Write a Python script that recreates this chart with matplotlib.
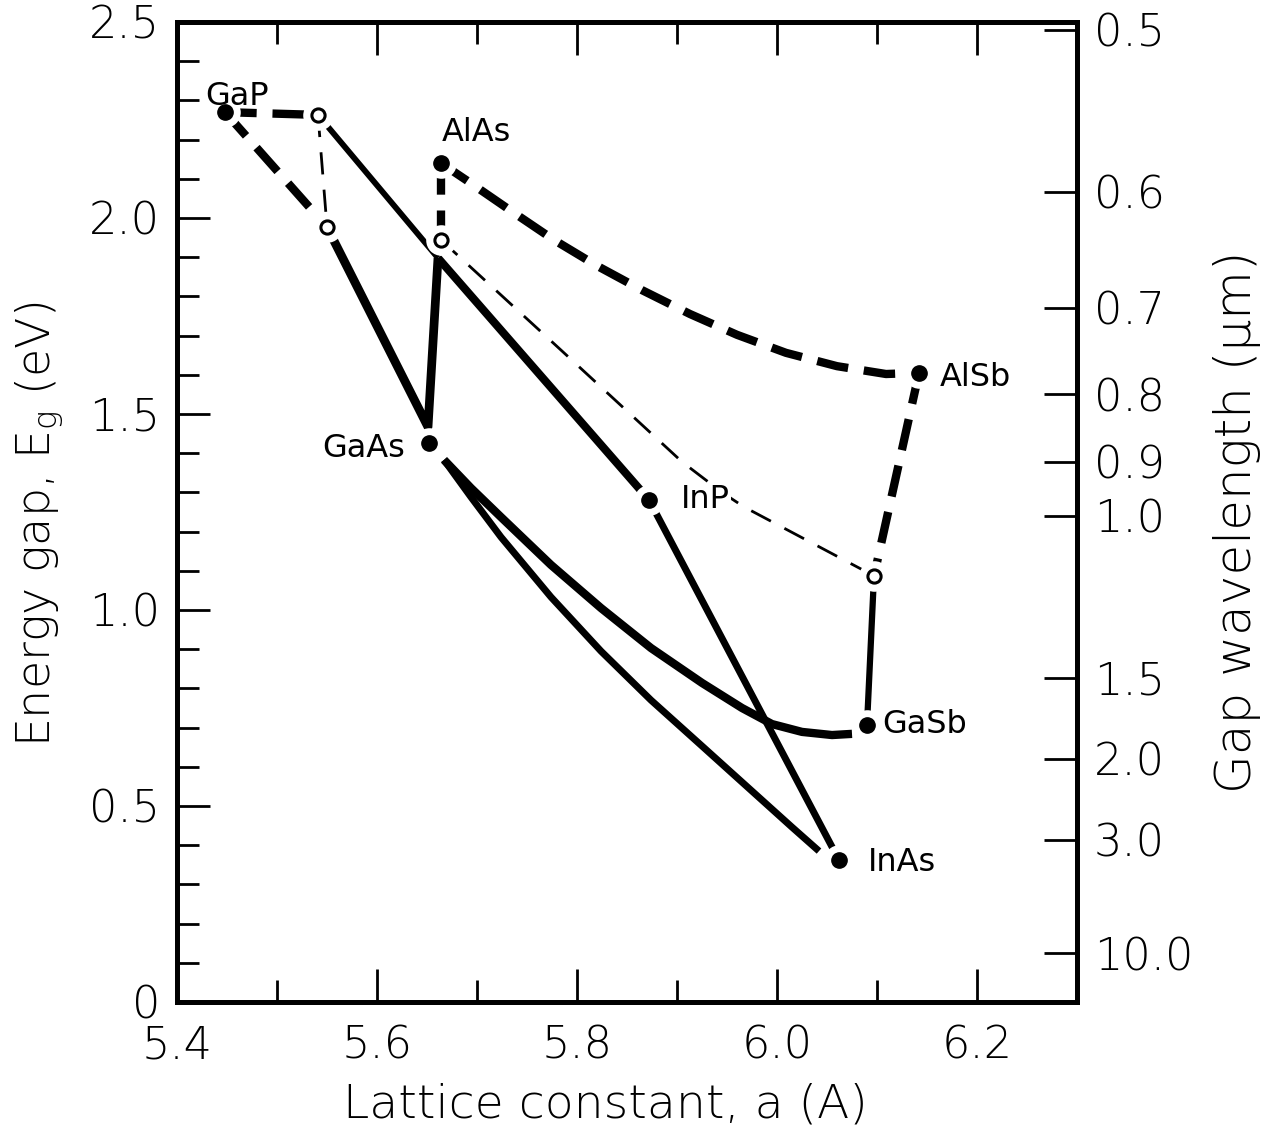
import matplotlib
matplotlib.use("Agg")
import matplotlib.pyplot as plt
from matplotlib import font_manager

plt.rcParams['font.family'] = ['DejaVu Sans']
plt.rcParams['mathtext.default'] = 'regular'

# use the lighter DejaVu cut when it is installed
WEIGHT = 'light' if any(
    f.name == 'DejaVu Sans' and f.weight in (200, 'light', 'extra-light', 'ultralight')
    for f in font_manager.fontManager.ttflist) else 'normal'

# Binary III-V compounds: lattice constant (A) and energy gap (eV)
compounds = ["GaP", "AlAs", "GaAs", "InP", "AlSb", "GaSb", "InAs"]
lattice = [5.448, 5.664, 5.652, 5.872, 6.142, 6.090, 6.062]
gap = [2.270, 2.140, 1.426, 1.281, 1.605, 0.707, 0.362]

# Crossover points (open circles)
open_a = [5.541, 5.550, 5.664, 6.097]
open_e = [2.263, 1.977, 1.944, 1.087]

# Ternary curves
gaas_gasb_a = [5.667, 5.694, 5.724, 5.774, 5.824, 5.874, 5.925, 5.965, 5.995, 6.025, 6.055, 6.075]
gaas_gasb_e = [1.383, 1.311, 1.237, 1.115, 1.005, 0.903, 0.814, 0.750, 0.709, 0.689, 0.681, 0.684]

gaas_inas_a = [5.667, 5.694, 5.724, 5.774, 5.824, 5.874, 5.925, 5.975, 6.015, 6.042]
gaas_inas_e = [1.383, 1.288, 1.186, 1.033, 0.895, 0.770, 0.653, 0.538, 0.446, 0.385]

alas_alsb_a = [5.664, 5.692, 5.737, 5.777, 5.820, 5.865, 5.913, 5.960, 6.009, 6.060, 6.109, 6.142]
alas_alsb_e = [2.140, 2.092, 2.013, 1.944, 1.878, 1.816, 1.755, 1.702, 1.656, 1.622, 1.602, 1.605]

# GaP-GaAs-AlAs region: direct-gap V and GaP-InP line
v_a = [5.550, 5.651, 5.661]
v_e = [1.977, 1.467, 1.898]
gap_inp_upper_a = [5.541, 5.661]
gap_inp_upper_e = [2.263, 1.898]
gap_inp_lower_a = [5.661, 5.872]
gap_inp_lower_e = [1.898, 1.281]

thin_dash_a = [5.664, 5.784, 5.905, 5.945, 5.967, 6.097]
thin_dash_e = [1.944, 1.663, 1.378, 1.300, 1.263, 1.087]

# Right axis: gap wavelength ticks (um), E = 1.24 / lambda
wavelengths = [0.5, 0.6, 0.7, 0.8, 0.9, 1.0, 1.5, 2.0, 3.0, 10.0]
wl_labels = ["0.5", "0.6", "0.7", "0.8", "0.9", "1.0", "1.5", "2.0", "3.0", "10.0"]

x_major = [5.4, 5.6, 5.8, 6.0, 6.2]
x_minor = [5.5, 5.7, 5.9, 6.1]
y_major = [0, 0.5, 1.0, 1.5, 2.0, 2.5]
y_labels = ["0", "0.5", "1.0", "1.5", "2.0", "2.5"]

label_pos = {
    "GaP": (5.460, 2.309),
    "AlAs": (5.699, 2.217),
    "GaAs": (5.587, 1.413),
    "InP": (5.928, 1.281),
    "AlSb": (6.198, 1.594),
    "GaSb": (6.148, 0.707),
    "InAs": (6.125, 0.357),
}

fig = plt.figure(figsize=(12.68, 11.36), dpi=100)
ax = fig.add_axes([0.13959, 0.11796, 0.70978, 0.86268])
ax.set_xlim(5.4, 6.3)
ax.set_ylim(0, 2.5)

K = 'black'
thick_dash = dict(color=K, lw=6.0, linestyle=(0, (3.8, 1.9)), dash_capstyle='butt', zorder=2)
thin_dash = dict(color=K, lw=2.0, linestyle=(0, (8, 5.5)), zorder=2)

# dashed boundaries
ax.plot([lattice[0], open_a[0]], [gap[0], open_e[0]], **thick_dash)
ax.plot([lattice[0], open_a[1]], [gap[0], open_e[1]], **thick_dash)
ax.plot([lattice[1], open_a[2]], [gap[1], open_e[2]], **thick_dash)
ax.plot(alas_alsb_a, alas_alsb_e, **thick_dash)
ax.plot([lattice[4], open_a[3]], [gap[4], open_e[3]], **thick_dash)
ax.plot([open_a[0], open_a[1]], [open_e[0], open_e[1]], **thin_dash)
ax.plot(thin_dash_a, thin_dash_e, **thin_dash)

# solid curves
solid = dict(color=K, solid_joinstyle='round', solid_capstyle='butt', zorder=2)
ax.plot(v_a, v_e, lw=6.3, **solid)
ax.plot(gap_inp_upper_a, gap_inp_upper_e, lw=4.2, **solid)
ax.plot(gap_inp_lower_a, gap_inp_lower_e, lw=5.8, **solid)
ax.plot([lattice[3], lattice[6]], [gap[3], gap[6]], lw=5.0, **solid)
ax.plot(gaas_gasb_a, gaas_gasb_e, lw=6.0, **solid)
ax.plot(gaas_inas_a, gaas_inas_e, lw=5.0, **solid)
ax.plot([open_a[3], lattice[5]], [open_e[3], gap[5]], lw=4.5, **solid)

# white halos so lines stop short of the points
ax.plot(lattice, gap, 'o', ms=22, mfc='white', mec='none', ls='none', zorder=3)
ax.plot(open_a, open_e, 'o', ms=22, mfc='white', mec='none', ls='none', zorder=3)
ax.plot(lattice, gap, 'o', ms=11, mfc=K, mec=K, ls='none', zorder=4)
ax.plot(open_a, open_e, 'o', ms=9.5, mfc='white', mec=K, mew=2.2, ls='none', zorder=4)

for name in compounds:
    x, y = label_pos[name]
    bbox = dict(facecolor='white', edgecolor='none', pad=1) if name == "InP" else None
    ax.text(x, y, name, fontsize=23, ha='center', va='center', zorder=5, bbox=bbox)

# axes styling
for s in ax.spines.values():
    s.set_linewidth(3.5)
ax.set_xticks(x_major)
ax.set_xticklabels([f"{v:.1f}" for v in x_major], fontweight=WEIGHT)
ax.set_xticks(x_minor, minor=True)
ax.set_yticks(y_major)
ax.set_yticklabels(y_labels, fontweight=WEIGHT)
ax.set_yticks([v / 10 for v in range(1, 25) if v % 5], minor=True)
ax.tick_params(which='major', direction='in', length=24, width=2, labelsize=32,
               top=True, bottom=True, left=True, right=False, pad=12)
ax.tick_params(which='minor', direction='in', length=16, width=2,
               top=True, bottom=True, left=True, right=False)
ax.tick_params(axis='x', which='major', pad=16)

ax.set_xlabel("Lattice constant, a (A)", fontsize=34, fontweight=WEIGHT)
ax.xaxis.set_label_coords(0.476, -0.105)
ax.xaxis.label.set_verticalalignment('center')
ax.set_ylabel("Energy gap, E$_g$ (eV)", fontsize=33, fontweight=WEIGHT)
ax.yaxis.set_label_coords(-0.152, 0.487)
ax.yaxis.label.set_verticalalignment('center')

ax2 = ax.twinx()
ax2.set_ylim(ax.get_ylim())
ax2.set_yticks([1.24 / w for w in wavelengths])
ax2.set_yticklabels(wl_labels, fontweight=WEIGHT)
ax2.tick_params(direction='in', length=24, width=2, labelsize=32, pad=12)
ax2.set_yticks([], minor=True)
for s in ax2.spines.values():
    s.set_linewidth(3.5)
ax2.set_ylabel("Gap wavelength (μm)", fontsize=36, fontweight=WEIGHT)
ax2.yaxis.set_label_coords(1.178, 0.490)
ax2.yaxis.label.set_verticalalignment('center')

fig.savefig("out.png", dpi=100, facecolor='white')
